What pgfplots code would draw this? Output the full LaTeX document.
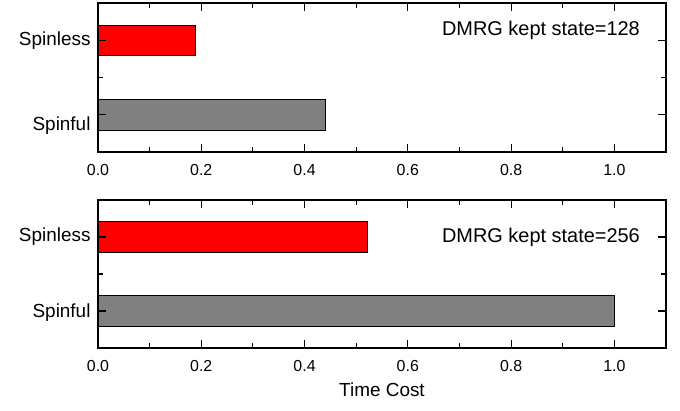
\documentclass[border=0pt]{standalone}
\usepackage{pgfplots}
\pgfplotsset{compat=1.18}
\usepackage{fontspec}
\setmainfont{Liberation Sans}

\definecolor{barred}{HTML}{FF0000}
\definecolor{bargray}{HTML}{808080}

\pgfplotsset{
  timepanel/.style={
    xbar, bar shift=0pt, bar width=0.41,
    axis on top,
    scale only axis,
    width=568bp,
    xmin=0, xmax=1.1,
    ymin=-0.5, ymax=1.5,
    xtick={0,0.2,0.4,0.6,0.8,1.0},
    minor x tick num=1,
    ytick={1},
    yticklabels={Spinless},
    extra y ticks={0},
    extra y tick labels={Spinful},
    minor ytick={0.5},
    tick align=inside,
    xtick align=inside,
    ytick align=inside,
    major tick length=8bp,
    minor tick length=5bp,
    tick style={line width=1.1pt, black},
    axis line style={line width=1.1pt},
    xticklabel style={font=\fontsize{16}{18}\selectfont, yshift=-9bp},
    yticklabel style={font=\fontsize{19}{22}\selectfont, xshift=-4bp},
    /pgf/number format/assume math mode=true,
    /pgf/number format/fixed,
    /pgf/number format/fixed zerofill,
    /pgf/number format/precision=1,
    every axis plot/.append style={draw=black, line width=0.8pt},
  }
}

\begin{document}
\begin{tikzpicture}[x=1bp,y=1bp]
\path (0,0) rectangle (680,410);

% kept states = 128
\begin{axis}[timepanel, height=149bp, at={(98bp,258bp)}, anchor=south west,
  extra y tick style={yticklabel style={yshift=-11bp}}]
\addplot[fill=barred] coordinates {(0.188,1)};
\addplot[fill=bargray] coordinates {(0.441,0)};
\node[anchor=east, font=\fontsize{20}{23}\selectfont] at (axis cs:1.056,1.13) {DMRG kept state=128};
\end{axis}

% kept states = 256
\begin{axis}[timepanel, height=148bp, at={(98bp,62bp)}, anchor=south west,
  extra y tick style={yticklabel style={yshift=-2bp}},
  xlabel={Time Cost}, xlabel style={font=\fontsize{19}{22}\selectfont, yshift=-4bp}]
\addplot[fill=barred] coordinates {(0.521,1)};
\addplot[fill=bargray] coordinates {(1.0,0)};
\node[anchor=east, font=\fontsize{20}{23}\selectfont] at (axis cs:1.056,1.0) {DMRG kept state=256};
\end{axis}
\end{tikzpicture}
\end{document}
